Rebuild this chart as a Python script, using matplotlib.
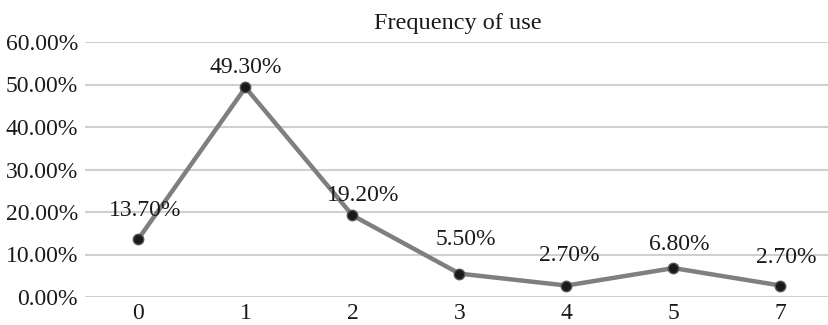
import matplotlib.pyplot as plt
from matplotlib.ticker import FuncFormatter

categories = ['0', '1', '2', '3', '4', '5', '7']
usage = [13.70, 49.30, 19.20, 5.50, 2.70, 6.80, 2.70]
yticks = [0, 10, 20, 30, 40, 50, 60]

# label offsets (pixels) to mimic the spreadsheet placement
lbl_dx = [7, 0, 11, 6, 3, 6, 6]
lbl_dy = [28, 20, 20, 34, 30, 24, 28]

plt.rcParams['font.family'] = ['Liberation Serif', 'DejaVu Serif']
fs = 17

fig = plt.figure(figsize=(8.29, 3.25), dpi=100)
ax = fig.add_axes([85 / 829, 28 / 325, 749 / 829, 255 / 325])

x = list(range(len(categories)))
ax.plot(x, usage, color='#7f7f7f', lw=3.2, zorder=3,
        marker='o', markersize=7.5, markerfacecolor='#1a1a1a',
        markeredgecolor='#555555', markeredgewidth=1)

for i, v in enumerate(usage):
    ax.annotate('%.2f%%' % v, (i, v), xytext=(lbl_dx[i] * 0.72, lbl_dy[i] * 0.72),
                textcoords='offset points', ha='center', va='center',
                fontsize=fs, color='#1a1a1a', zorder=4)

ax.set_xlim(-0.5, len(categories) - 0.5)
ax.set_ylim(0, 60)
ax.set_yticks(yticks)
ax.yaxis.set_major_formatter(FuncFormatter(lambda v, p: '%.2f%%' % v))
ax.set_xticks(x)
ax.set_xticklabels(categories)
ax.grid(axis='y', color='#d0d0d0', lw=1.5, zorder=0)
for s in ax.spines.values():
    s.set_visible(False)
ax.tick_params(length=0, labelsize=fs, colors='#1a1a1a')
ax.tick_params(axis='y', pad=5)
ax.tick_params(axis='x', pad=4)

fig.text(458 / 829, 1 - 23 / 325, 'Frequency of use', ha='center', va='center',
         fontsize=17.5, color='#1a1a1a')

fig.savefig('out.png', dpi=100)
